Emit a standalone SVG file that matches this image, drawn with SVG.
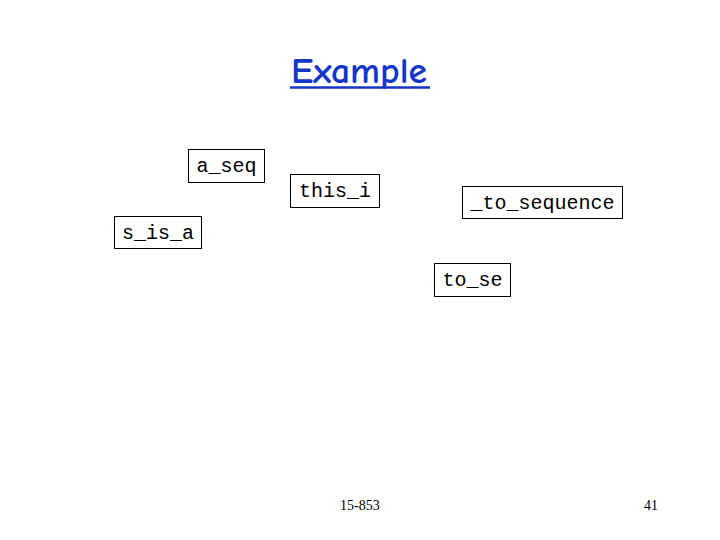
<svg xmlns="http://www.w3.org/2000/svg" width="720" height="540" viewBox="0 0 720 540">
<style>
.box{fill:#fff;stroke:#000;stroke-width:1}
.lbl{font-family:"Courier New","Liberation Mono",monospace;font-size:20px;fill:#000;text-anchor:middle}
.foot{font-family:"Liberation Serif","Times New Roman",serif;font-size:14px;fill:#000}
</style>
<rect width="720" height="540" fill="#fff"/>
<text x="359" y="83" text-anchor="middle" font-family="'Comic Neue','Liberation Sans',sans-serif" font-weight="bold" font-size="36" fill="#1436c8" textLength="136" lengthAdjust="spacingAndGlyphs">Example</text>
<line x1="290" y1="87.5" x2="430" y2="87.5" stroke="#1436c8" stroke-width="2.5"/>
<g id="a_seq"><rect class="box" x="188.5" y="149.5" width="76" height="33"/><text class="lbl" x="226.5" y="172">a_seq</text></g>
<g id="this_i"><rect class="box" x="290.5" y="174.5" width="89" height="33"/><text class="lbl" x="335" y="197">this_i</text></g>
<g id="to_sequence"><rect class="box" x="462.5" y="186.5" width="160" height="32"/><text class="lbl" x="542.5" y="209">_to_sequence</text></g>
<g id="s_is_a"><rect class="box" x="114.5" y="216.5" width="87" height="32"/><text class="lbl" x="158" y="239">s_is_a</text></g>
<g id="to_se"><rect class="box" x="434.5" y="263.5" width="76" height="33"/><text class="lbl" x="472.5" y="286">to_se</text></g>
<g id="connectors"></g>
<text class="foot" x="340" y="510">15-853</text>
<text class="foot" x="644" y="510">41</text>
</svg>
